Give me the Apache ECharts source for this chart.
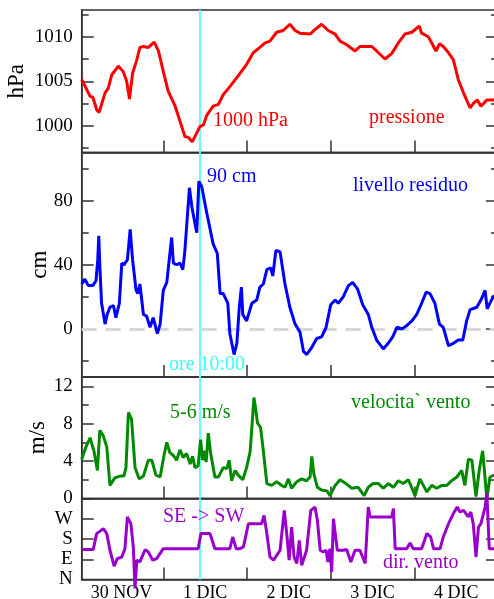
<!DOCTYPE html>
<html>
<head>
<meta charset="utf-8">
<script src="https://cdn.jsdelivr.net/npm/echarts@6/dist/echarts.min.js"></script>
<style>html,body{margin:0;padding:0;background:#fff}#c{width:494px;height:599px}</style>
</head>
<body>
<div id="c"></div>
<script>
// ---- data (hours from 30 NOV 00:00) ----
const pressHours = [0.6,2.0,3.0,3.8,4.9,5.6,7.3,8.2,9.2,11.1,12.5,13.5,14.3,15.2,16.4,17.3,18.3,19.7,21.4,22.6,24.0,25.4,27.4,29.3,30.2,31.2,32.3,33.6,34.5,35.5,36.5,38.3,39.8,41.2,43.1,45.1,47.9,49.8,51.7,53.2,54.6,56.5,58.4,60.3,61.8,63.2,66.1,67.5,69.4,71.3,73.3,74.7,76.6,79.0,80.4,83.8,85.2,87.6,89.5,91.4,93.3,95.3,97.4,98.1,100.0,101.0,102.2,103.2,104.3,105.8,107.2,108.6,110.1,112.0,112.9,114.1,115.1,116.8,118.9];
const pressure = [1005.2,1004.1,1003.3,1003.2,1001.8,1001.5,1003.7,1004.2,1005.7,1006.7,1006.1,1005.0,1003.0,1005.9,1007.4,1008.8,1008.9,1008.8,1009.4,1008.4,1006.1,1003.9,1002.2,999.9,998.8,998.7,998.2,999.2,999.9,1000.1,1001.2,1002.2,1002.4,1003.5,1004.4,1005.4,1006.9,1008.2,1008.8,1009.3,1009.5,1010.5,1010.7,1011.4,1010.7,1010.4,1010.3,1010.8,1011.4,1010.7,1010.3,1009.5,1009.1,1008.4,1008.9,1008.9,1008.4,1007.5,1008.1,1009.3,1010.3,1010.5,1011.2,1010.4,1010.0,1009.3,1008.4,1009.2,1008.9,1008.2,1007.4,1005.2,1003.7,1002.0,1002.5,1002.9,1002.2,1002.9,1002.9];

const levelHours = [0.6,1.5,2.5,3.8,4.7,5.2,5.5,5.8,6.3,7.3,7.9,8.7,9.7,10.4,11.4,12.1,12.7,13.7,14.5,15.2,16.2,16.7,17.3,18.3,19.2,20.2,21.1,21.6,22.3,23.1,24.0,25.0,25.7,26.4,26.9,27.8,28.8,29.6,30.2,30.7,31.5,32.2,32.8,33.6,34.2,35.0,36.5,38.3,39.5,40.3,41.2,42.5,43.1,44.3,45.1,45.8,46.4,46.8,47.9,49.4,50.8,51.7,52.7,53.7,54.8,55.4,56.3,57.5,58.9,60.3,61.8,63.2,64.2,65.1,66.6,68.0,69.4,70.7,72.0,73.3,74.2,75.6,77.1,78.3,79.7,81.2,82.8,83.8,85.2,87.1,88.5,89.8,91.0,92.4,93.8,95.3,96.7,98.1,99.4,100.5,101.9,103.2,104.3,105.8,107.2,108.6,109.9,111.0,112.0,113.9,115.1,116.3,116.9,117.9,118.9];
const level = [28,31,27,27,30,43,58,39,16,3,9,13.5,14.6,7,16,41,40,43,62,43,24,22,28,9,8,1,7,3,-3,3,24,29,43,57,41,40,41,37,49,64,88,76,69,60,92,89,72,53,47,22,22,16,-3,-16,-9,13.5,26,9,5,16,18,26,28,37,38,33,49,48,28,13.5,3,-2,-14,-16,-11.5,-6,-5,1,15,18,16,20,27,29,25,15,9,1,-7,-12.5,-9,-5,1,0,2,5,9,16,23,22,16,3,1,-10.5,-9,-7,-7,5,12,13.5,18,24,12.5,17,21];

const windHours = [0.6,1.8,3.0,4.1,5.1,5.8,6.8,7.8,8.7,10.1,11.6,12.7,13.3,14.0,14.9,15.9,17.1,18.3,19.7,20.7,21.9,23.1,24.2,25.0,25.9,26.9,27.8,28.8,29.7,30.7,31.7,32.4,33.1,34.0,34.7,35.3,35.9,36.3,36.9,37.6,38.8,39.8,41.2,42.2,42.9,43.6,44.6,45.5,46.8,47.9,48.9,49.6,50.0,50.6,51.0,51.9,52.7,53.7,55.1,56.5,58.0,58.9,59.9,60.8,62.3,63.7,65.1,66.1,66.6,67.2,68.2,69.4,71.0,71.8,73.3,74.7,76.4,78.0,79.9,81.6,82.8,84.2,85.7,87.1,88.5,90.0,91.4,92.8,94.3,95.0,96.2,97.6,98.6,99.6,101.0,102.4,103.9,105.3,106.7,108.2,109.6,110.5,111.5,112.5,113.7,114.6,115.6,116.8,117.7,118.9];
const windSpeed = [4.2,5.5,6.5,5.1,3.0,7.3,6.7,5.5,1.4,2.2,2.4,2.4,3.3,9.2,8.5,3.3,2.1,2.4,4.1,4.1,2.5,2.3,4.6,6.0,4.9,4.6,4.1,5.2,4.4,4.8,3.7,4.5,3.3,3.5,6.3,4.1,5.1,3.9,7.0,4.8,2.3,2.3,3.3,3.2,4.1,1.9,3.0,2.5,2.0,3.3,5.0,8.6,10.8,9.3,8.1,7.6,5.1,1.6,1.4,1.8,1.4,1.2,2.1,1.1,1.8,2.1,1.9,2.3,4.5,2.6,1.2,0.9,0.8,0.3,1.4,2.0,1.6,1.1,1.2,0.3,1.2,1.6,1.6,1.1,1.6,1.2,1.9,1.6,2.0,1.4,0.3,2.1,1.4,0.7,1.4,1.1,1.4,1.4,1.9,2.3,3.0,1.4,4.2,4.1,0.2,3.0,5.1,0,2.3,2.5];

const dirHours = [0.6,3.9,4.9,6.8,7.8,8.7,9.9,10.8,12.1,13.0,13.7,14.7,15.4,15.9,16.4,17.3,18.8,19.7,21.0,22.1,24.0,34.0,34.8,37.4,38.8,43.1,43.9,44.9,46.0,47.0,48.4,52.2,52.9,53.7,54.6,55.6,57.5,58.3,58.7,59.4,60.1,60.8,61.5,62.3,63.0,63.7,65.1,66.3,67.5,68.2,69.0,69.9,70.7,71.2,71.8,72.3,72.8,73.9,75.6,76.6,77.8,79.0,80.4,81.9,82.8,83.3,85.2,89.5,90.0,90.5,93.8,94.8,95.7,98.1,99.6,100.7,101.5,103.4,104.3,105.8,107.2,108.3,109.1,110.1,111.5,112.2,112.9,113.7,114.4,115.1,116.3,116.8,117.5,118.9];
const windDir = [133,133,204,226,204,130,59,93,100,137,278,248,145,-40,86,78,133,122,86,93,137,137,204,204,137,137,189,137,137,145,248,248,285,204,100,86,130,248,307,204,86,233,100,71,174,63,130,307,322,263,130,122,130,78,137,34,270,130,130,133,78,130,130,71,322,278,278,278,315,137,137,162,137,137,204,189,137,137,189,248,293,322,300,307,278,300,248,100,233,248,322,385,137,137];

// ---- axes ticks / labels ----
const dayTickHours = [24, 48, 72, 96];
const dayLabelHours = [12, 36, 60, 84, 108];
const dayLabels = ['30 NOV', '1 DIC', '2 DIC', '3 DIC', '4 DIC'];
const eventHour = 34.5;

const pressMajor = [1000, 1005, 1010];
const pressMinor = [997.5, 1002.5, 1007.5, 1012.5];
const levelMajor = [0, 40, 80];
const levelMinor = [-20, 20, 60, 100];
const speedMajor = [0, 4, 8, 12];
const speedMinor = [2, 6, 10];
const dirTicks = [90, 180, 270];
const dirLabelValues = [0, 90, 180, 270];
const dirLabels = ['N', 'E', 'S', 'W'];

// ---- layout ----
const FONT = '"Liberation Serif", "Times New Roman", serif';
const AX = '#333';
const X_MIN = 0.6, X_MAX = 120;
const grids = [
  {left: 81.7, width: 416.3, top: 10, height: 142.5},
  {left: 81.7, width: 416.3, top: 152.5, height: 224.5},
  {left: 81.7, width: 416.3, top: 377, height: 121.5},
  {left: 81.7, width: 416.3, top: 498.5, height: 81}
].map(g => Object.assign(g, {show: true, borderColor: AX, borderWidth: 1.5,
  backgroundColor: 'transparent', containLabel: false, outerBoundsMode: 'none'}));

function zip(a, b) { return a.map((v, i) => [v, b[i]]); }

const xAxes = grids.map((g, i) => ({
  type: 'value', gridIndex: i, min: X_MIN, max: X_MAX, position: 'bottom',
  axisLine: {show: true, onZero: false, lineStyle: {color: AX, width: 1.5}},
  axisTick: {show: true, inside: true, length: 12, customValues: dayTickHours, lineStyle: {color: AX, width: 1.5}},
  axisLabel: {show: i === 3, customValues: dayLabelHours, margin: 5,
    formatter: v => dayLabels[dayLabelHours.indexOf(v)] || '',
    fontSize: 18, fontFamily: FONT, color: '#000'},
  splitLine: {show: false}
}));

const yAxes = [];
function addY(gi, min, max, major, minor, labelVals, fmt, name, nameGap) {
  const idx = yAxes.length;
  yAxes.push({
    type: 'value', gridIndex: gi, min, max, position: 'left',
    axisLine: {show: true, onZero: false, lineStyle: {color: AX, width: 1.5}},
    axisTick: {show: true, inside: true, length: 12, customValues: major, lineStyle: {color: AX, width: 1.5}},
    axisLabel: {show: true, customValues: labelVals, formatter: fmt, margin: 9, fontSize: 19, fontFamily: FONT, color: '#000'},
    splitLine: {show: false},
    name: name, nameLocation: 'middle', nameRotate: 90, nameGap: nameGap, nameMoveOverlap: false,
    nameTextStyle: {fontSize: 23, fontFamily: FONT, color: '#000'}
  });
  const extra = [['left', major, 12, false], ['right', major, 12, true]];
  if (minor.length) { extra.push(['left', minor, 7, false]); extra.push(['right', minor, 7, false]); }
  extra.forEach(([pos, vals, len, line]) => yAxes.push({
    type: 'value', gridIndex: gi, min, max, position: pos,
    axisLine: {show: line, onZero: false, lineStyle: {color: AX, width: 1.5}},
    axisTick: {show: true, inside: true, length: len, customValues: vals, lineStyle: {color: AX, width: 1.5}},
    axisLabel: {show: false}, splitLine: {show: false}
  }));
  return idx;
}
const yP = addY(0, 997, 1013, pressMajor, pressMinor, pressMajor, v => String(v), 'hPa', 53);
const yL = addY(1, -30, 110, levelMajor, levelMinor, levelMajor, v => String(v), 'cm', 30);
const yS = addY(2, 0, 13, speedMajor, speedMinor, speedMajor, v => String(v), 'm/s', 32);
const yD = addY(3, 0, 360, dirTicks, [], dirLabelValues, v => dirLabels[dirLabelValues.indexOf(v)] || '', '', 0);

const cyan = {xAxis: eventHour, lineStyle: {color: '#66ffff', width: 2, type: 'solid'}};
function mk(extra) {
  return {silent: true, symbol: 'none', z: 1, label: {show: false}, animation: false,
    data: [cyan].concat(extra || [])};
}
function line(gi, yi, data, color, clip, extraMark) {
  return {type: 'line', xAxisIndex: gi, yAxisIndex: yi, data, showSymbol: false, clip,
    lineStyle: {color, width: 3}, itemStyle: {color}, z: 3, animation: false,
    markLine: mk(extraMark)};
}

const series = [
  line(0, yP, zip(pressHours, pressure), '#ff0000', true),
  line(1, yL, zip(levelHours, level), '#0000ff', true,
       [{yAxis: 0, lineStyle: {color: '#d8d8d8', width: 3, type: [15, 9]}}]),
  line(2, yS, zip(windHours, windSpeed), '#008a00', true),
  line(3, yD, zip(dirHours, windDir), '#9900cc', false)
];

function txt(x, y, text, fill) {
  return {type: 'text', x, y, z: 100, silent: true,
    style: {text, fill, font: '20px ' + FONT, align: 'left', verticalAlign: 'middle'}};
}
const graphics = [
  txt(213, 121, '1000 hPa', '#ff0000'),
  txt(369, 118, 'pressione', '#ff0000'),
  txt(207, 177, '90 cm', '#0000ff'),
  txt(353, 186, 'livello residuo', '#0000ff'),
  txt(169, 365, 'ore 10:00', '#33ffff'),
  txt(170, 413, '5-6 m/s', '#008a00'),
  txt(351, 403, 'velocita` vento', '#008a00'),
  txt(163, 517, 'SE -> SW', '#9900cc'),
  txt(383, 563, 'dir. vento', '#9900cc')
];

const chart = echarts.init(document.getElementById('c'), null, {renderer: 'canvas'});
chart.setOption({
  animation: false,
  backgroundColor: '#fff',
  grid: grids,
  xAxis: xAxes,
  yAxis: yAxes,
  series: series,
  graphic: graphics
});
</script>
</body>
</html>
